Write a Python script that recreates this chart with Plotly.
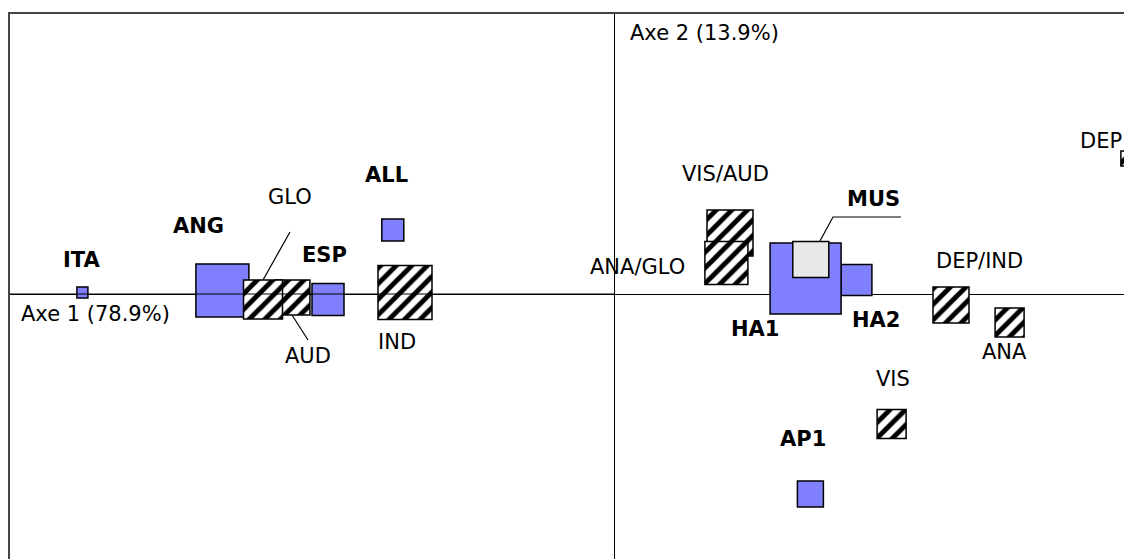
import plotly.graph_objects as go

# =====================================================
# DONNÉES (coordonnées factorielles, côté des carrés)
# =====================================================

# lignes (modalités en gras, carrés bleus)
lig_noms = ["ITA", "ANG", "ESP", "ALL", "HA2", "HA1", "AP1"]
lig_x = [-1.329, -0.979, -0.715, -0.553, 0.606, 0.479, 0.491]
lig_y = [0.004, 0.009, -0.014, 0.160, 0.035, 0.039, -0.500]
lig_taille = [0.0275, 0.1325, 0.080, 0.055, 0.0775, 0.1775, 0.065]
lig_lab_x = [-1.330, -1.040, -0.725, -0.570, 0.655, 0.3525, 0.4725]
lig_lab_y = [0.085, 0.170, 0.0975, 0.2975, -0.065, -0.0875, -0.3625]

# modalité supplémentaire (carré gris)
sup_noms = ["MUS"]
sup_x = [0.492]
sup_y = [0.0863]
sup_taille = [0.090]
sup_lab_x = [0.6475]
sup_lab_y = [0.2375]

# colonnes (carrés hachurés)
col_noms = ["AUD", "GLO", "IND", "VIS/AUD", "ANA/GLO", "DEP/IND", "ANA", "VIS", "DEP"]
col_x = [-0.804, -0.8775, -0.5225, 0.290, 0.281, 0.8425, 0.989, 0.694, 1.286]
col_y = [-0.009, -0.014, 0.004, 0.1525, 0.0775, -0.0275, -0.071, -0.325, 0.339]
col_taille = [0.0875, 0.0975, 0.135, 0.115, 0.1075, 0.090, 0.0725, 0.0725, 0.0375]
col_lab_x = [-0.765, -0.81, -0.5425, 0.2775, 0.0575, 0.9125, 0.975, 0.6975, 1.2175]
col_lab_y = [-0.155, 0.2425, -0.12, 0.30, 0.0675, 0.0825, -0.145, -0.2125, 0.3825]

# traits de rappel
rappel_glo_x = [-0.81, -0.8775]
rappel_glo_y = [0.155, 0.035]
rappel_aud_x = [-0.805, -0.765]
rappel_aud_y = [-0.0525, -0.115]
rappel_mus_x = [0.7175, 0.5475, 0.515]
rappel_mus_y = [0.1925, 0.1925, 0.1325]

# titres des axes
axe1 = "Axe 1 (78.9%)"
axe2 = "Axe 2 (13.9%)"

X_MIN, X_MAX = -1.51, 1.315
Y_MIN, Y_MAX = -0.6625, 0.70

POLICE = "DejaVu Sans"
TAILLE = 21
BLEU = "#8080FF"


# =====================================================
# CARRÉS
# =====================================================

def carres(xs, ys, tailles, noms, **marker):
    return go.Bar(
        x=xs,
        y=tailles,
        base=[y - t / 2 for y, t in zip(ys, tailles)],
        width=tailles,
        text=noms,
        textposition="none",
        hoverinfo="text",
        marker=marker,
        showlegend=False
    )


fig = go.Figure()

fig.add_trace(
    carres(
        lig_x, lig_y, lig_taille, lig_noms,
        color=BLEU,
        opacity=1,
        line=dict(color="black", width=1.5)
    )
)

fig.add_trace(
    carres(
        col_x, col_y, col_taille, col_noms,
        color="white",
        opacity=1,
        line=dict(color="black", width=1.5),
        pattern=dict(
            shape="/",
            fgcolor="black",
            bgcolor="white",
            fgopacity=1,
            size=11,
            solidity=0.45
        )
    )
)

fig.add_trace(
    carres(
        sup_x, sup_y, sup_taille, sup_noms,
        color="#E8E8E8",
        opacity=1,
        line=dict(color="black", width=1.5)
    )
)

# traits de rappel
for rx, ry in [
    (rappel_glo_x, rappel_glo_y),
    (rappel_aud_x, rappel_aud_y),
    (rappel_mus_x, rappel_mus_y)
]:
    fig.add_trace(
        go.Scatter(
            x=rx,
            y=ry,
            mode="lines",
            line=dict(color="black", width=1.2),
            hoverinfo="skip",
            showlegend=False
        )
    )


# =====================================================
# ÉTIQUETTES
# =====================================================

annotations = []

for nom, lx, ly in zip(lig_noms + sup_noms, lig_lab_x + sup_lab_x, lig_lab_y + sup_lab_y):
    annotations.append(dict(
        x=lx, y=ly, text="<b>" + nom + "</b>", showarrow=False,
        font=dict(family=POLICE, size=TAILLE, color="black")
    ))

for nom, lx, ly in zip(col_noms, col_lab_x, col_lab_y):
    annotations.append(dict(
        x=lx, y=ly, text=nom, showarrow=False,
        font=dict(family=POLICE, size=TAILLE, color="black")
    ))

annotations.append(dict(
    x=X_MIN, y=-0.015, text=axe1, showarrow=False,
    xanchor="left", yanchor="top", xshift=9,
    font=dict(family=POLICE, size=TAILLE, color="black")
))

annotations.append(dict(
    x=0, y=Y_MAX, text=axe2, showarrow=False,
    xanchor="left", yanchor="top", xshift=14, yshift=-5,
    font=dict(family=POLICE, size=TAILLE, color="black")
))


# =====================================================
# LAYOUT
# =====================================================

# la page ajoute 8 px de marge autour de la figure
fig.update_layout(
    width=1132,
    height=551,
    margin=dict(l=2, r=0, t=6, b=0),
    barmode="overlay",
    paper_bgcolor="white",
    plot_bgcolor="white",
    annotations=annotations,
    shapes=[
        # axe horizontal au-dessus des carrés de gauche
        dict(
            type="line", xref="x", yref="y",
            x0=X_MIN, x1=0, y0=0, y1=0,
            line=dict(color="black", width=1.2),
            layer="above"
        )
    ]
)

fig.update_xaxes(
    range=[X_MIN, X_MAX],
    side="top",
    showline=True,
    linecolor="#444444",
    linewidth=1.5,
    showgrid=False,
    showticklabels=False,
    ticks="",
    zeroline=True,
    zerolinecolor="black",
    zerolinewidth=1.2
)

fig.update_yaxes(
    range=[Y_MIN, Y_MAX],
    showline=True,
    linecolor="#444444",
    linewidth=1.5,
    showgrid=False,
    showticklabels=False,
    ticks="",
    zeroline=True,
    zerolinecolor="black",
    zerolinewidth=1.2
)

fig.write_html("out.html")
